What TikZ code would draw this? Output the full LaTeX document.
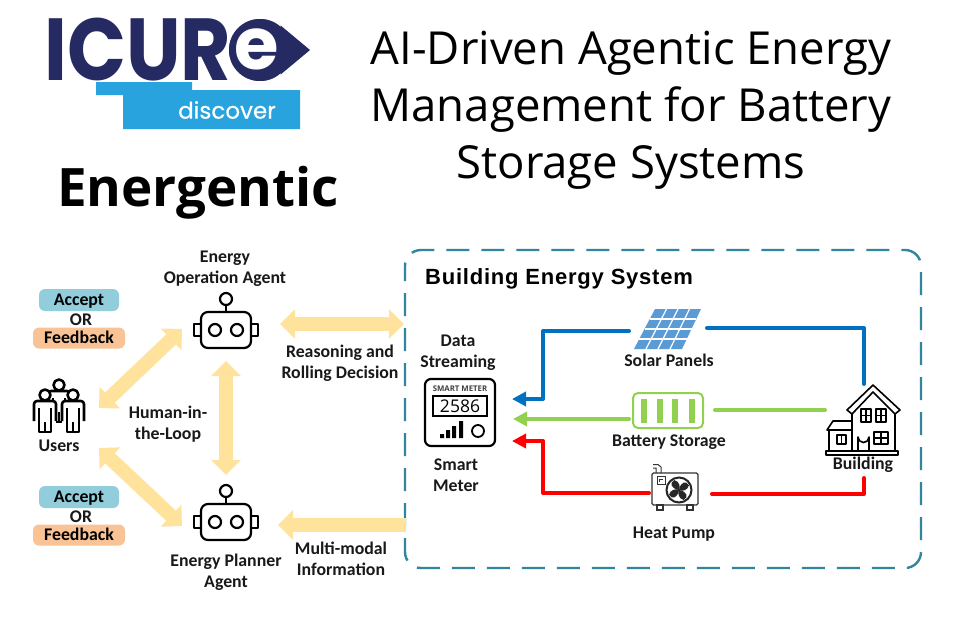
\documentclass[tikz,border=0pt]{standalone}
\usepackage{fontspec}
\setmainfont{Carlito}
\newfontfamily\titlefont{Open Sans}
\newfontfamily\heavyfont{Poppins}
\newfontfamily\logofont[FakeStretch=0.88]{Poppins}
\newfontfamily\discfont[FakeBold=0.4]{Poppins}
\newfontfamily\headfont[LetterSpace=3.5]{Liberation Sans}
\usetikzlibrary{arrows.meta}
\definecolor{navy}{HTML}{262A63}
\definecolor{skyb}{HTML}{29A3DD}
\definecolor{flow}{HTML}{FFE29B}
\definecolor{teal1}{HTML}{31859C}
\definecolor{acc}{HTML}{92CDDC}
\definecolor{fb}{HTML}{F9C396}
\definecolor{solb}{HTML}{0070C0}
\definecolor{batg}{HTML}{92D050}
\definecolor{panel}{HTML}{5B9BD5}
\tikzset{
 x=1pt,y=-1pt,
 lbl/.style={font=\fontsize{17.8}{21}\selectfont\bfseries,align=center,inner sep=0pt,text=black!90},
 title/.style={font=\titlefont\fontsize{45.5}{57}\selectfont,align=center,inner sep=0pt},
 biflow/.style={line width=14pt,flow,{Triangle[length=15pt,width=29pt]}-{Triangle[length=15pt,width=29pt]}},
 uniflow/.style={line width=14pt,flow,{Triangle[length=15pt,width=29pt]}-},
 pill/.style={rounded corners=6pt,inner sep=0pt,minimum height=22pt,text height=12pt,text depth=2pt,font=\fontsize{17.8}{18}\selectfont\bfseries},
 icon/.style={line width=2.2pt,draw=black,line join=round},
 pipe/.style={line width=4pt,line join=round,line cap=round},
 pipearrow/.style={pipe,-{Triangle[length=14pt,width=14pt]}},
}
\newcommand{\robot}[3]{% x, y, name
 \begin{scope}[shift={(#1,#2)}]
 \draw[icon,rounded corners=7pt] (-25,-18) rectangle (25,18);
 \draw[icon] (-25,-6) -- (-32,-6) -- (-32,6) -- (-25,6);
 \draw[icon] (25,-6) -- (32,-6) -- (32,6) -- (25,6);
 \draw[icon] (-11,0) circle (6);
 \draw[icon] (11,0) circle (6);
 \draw[icon] (0,-31) circle (6);
 \draw[icon] (0,-25) -- (0,-18);
 \coordinate (#3) at (0,0);
 \end{scope}}
\newcommand{\person}[2]{% head centre x, y
 \begin{scope}[shift={(#1,#2)},line width=2.6pt,line join=round]
 \fill[white] (-11,6) rectangle (11,38);
 \draw[fill=white] (0,0) circle (5.5);
 \draw[rounded corners=3pt] (-11,26) -- (-11,6) -- (11,6) -- (11,26);
 \draw (-6,13) -- (-6,37) -- (6,37) -- (6,13);
 \draw (0,27) -- (0,37);
 \end{scope}}
\begin{document}
\begin{tikzpicture}
\useasboundingbox (0,0) rectangle (960,625);
\fill[white] (0,0) rectangle (960,625);

% logo
\fill[skyb] (96,82) -- (192,82) -- (192,90) -- (300,90) -- (300,129) -- (123,129) -- (123,95) -- (96,95) -- cycle;
\node[inner sep=0pt,text=navy] (logo) at (138,50) {\logofont\bfseries\fontsize{88}{88}\selectfont ICUR};
\fill[navy,draw=white,line width=1.5pt] (260,50) circle (32);
\fill[navy] (280.5,25.4) -- (310,50) -- (280.5,74.6) -- cycle;
\node[inner sep=0pt,text=white] (loge) at (257,49) {\heavyfont\bfseries\fontsize{72}{72}\selectfont e};
\node[inner sep=0pt,text=white] (disc) at (227,110) {\discfont\fontsize{23}{23}\selectfont discover};

\node[title] (ttl) at (631,110) {AI-Driven Agentic Energy\\Management for Battery\\Storage Systems};
\node[inner sep=0pt,font=\titlefont\bfseries\fontsize{53}{54}\selectfont] (name) at (198,193) {Energentic};

% building box
\draw[teal1,line width=2.4pt,rounded corners=16pt,dash pattern=on 23pt off 12pt,dash phase=8pt] (405,250) rectangle (921,568);
\node[anchor=west,inner sep=0pt,font=\headfont\bfseries\fontsize{22}{22}\selectfont] (bes) at (425,279) {Building Energy System};

% left: pills
\node[pill,fill=acc,minimum width=80pt] (a1) at (79,300) {Accept};
\node[lbl] (o1) at (81,320) {OR};
\node[pill,fill=fb,minimum width=92pt,minimum height=21pt] (f1) at (79,338) {Feedback};
\node[pill,fill=acc,minimum width=80pt] (a2) at (79,497) {Accept};
\node[lbl] (o2) at (81,517) {OR};
\node[pill,fill=fb,minimum width=92pt,minimum height=21pt] (f2) at (79,535) {Feedback};

% labels
\node[lbl] (eoa) at (225,269) {Energy\\Operation Agent};
\node[lbl] (epa) at (226,572) {Energy Planner\\Agent};
\node[lbl] (usr) at (59,446) {Users};
\node[lbl] (hil) at (168,424) {Human-in-\\the-Loop};
\node[lbl] (rrd) at (340,363) {Reasoning and\\Rolling Decision};
\node[lbl] (mmi) at (341,559) {Multi-modal\\Information};
\node[lbl] (ds) at (458,353) {Data\\Streaming};
\node[lbl] (sm) at (456,475) {Smart\\Meter};
\node[lbl] (sp) at (669,360) {Solar Panels};
\node[lbl] (bs) at (669,442) {Battery Storage};
\node[lbl] (hp) at (674,534) {Heat Pump};

% robots
\robot{226}{330}{rob1}
\robot{226}{522}{rob2}

% users icon
\person{59}{385}
\person{45}{395}
\person{73}{395}
\coordinate (usertop) at (99,408);
\coordinate (userbot) at (99,448);
\coordinate (r1sw) at (182,329);
\coordinate (r2nw) at (182,526);
\coordinate (r1s) at (226,361);
\coordinate (r2n) at (226,475);
\coordinate (r1e) at (280,324);
\coordinate (boxw1) at (404,324);
\coordinate (r2e) at (278,525);
\coordinate (boxw2) at (406,525);

% yellow flows
\draw[biflow] (usertop) -- (r1sw);
\draw[biflow] (userbot) -- (r2nw);
\draw[biflow] (r1s) -- (r2n);
\draw[biflow] (r1e) -- (boxw1);
\draw[uniflow] (r2e) -- (boxw2);

% smart meter
\draw[line width=2.2pt,rounded corners=6pt] (425,379) rectangle (495,446);
\node[inner sep=0pt,font=\titlefont\bfseries\fontsize{7.8}{8}\selectfont,text=black!75] (smt) at (460,389) {SMART METER};
\draw[line width=1.8pt] (433,396) rectangle (487,416);
\node[inner sep=0pt,font=\titlefont\fontsize{17.5}{17}\selectfont] (num) at (460,406) {2586};
\fill (440,434) rectangle (444,438) (446,430) rectangle (450,438) (452,426) rectangle (456,438) (459,421) rectangle (463,438);
\draw[line width=1.8pt] (478,431) circle (6);

% solar panel
\fill[panel] (655,309) -- (701,309) -- (682,349) -- (634,349) -- cycle;
\foreach \t in {0.25,0.5,0.75}{
 \draw[white,line width=1.2pt] ({655-21*\t},{309+40*\t}) -- ({701-19*\t},{309+40*\t});
 \draw[white,line width=1.2pt] ({655+46*\t},309) -- ({634+48*\t},349);
}
\coordinate (solL) at (629,331);
\coordinate (solR) at (707,328);

% battery
\draw[batg,line width=2pt,rounded corners=5pt] (633,393) rectangle (703,428);
\foreach \c in {644,660,675,692}{\fill[batg] ({\c-3.3},399) rectangle ({\c+3.3},423);}
\coordinate (batL) at (629,419);
\coordinate (batR) at (715,410);

% heat pump
\draw[line width=1.2pt,black!80,rounded corners=1.5pt,fill=white] (652,473) rectangle (698,505);
\draw[line width=1.2pt,black!80] (657,505) rectangle (663,510) (687,505) rectangle (693,510);
\draw[line width=1pt,black!80] (656,473) -- (656,468) -- (653,468) (661,473) -- (661,467) -- (658,464.5) -- (653,464.5);
\draw[line width=1pt,black!80] (657,476) rectangle (665,484);
\draw[line width=0.8pt,black!80] (659,479) -- (663,479) (659,479) -- (659,482);
\draw[line width=2pt,black!85] (679,490) circle (12.5);
\foreach \a in {20,110,200,290}{\fill[black!85,rotate around={\a:(679,490)}] (679,490) .. controls (683,483) and (689,483) .. (690,489) .. controls (687,493) and (682,493) .. (679,490) -- cycle;}
\coordinate (hpL) at (649,493);
\coordinate (hpR) at (712,494);

% house
\begin{scope}[line width=1.6pt,line join=round]
\draw (873,385) -- (900,410) -- (895,414) -- (873,392) -- (852,414) -- (847,410) -- cycle;
\draw (852,414) -- (852,451) (895,414) -- (895,451);
\draw (861,409) rectangle (871,422) (866,409) -- (866,422) (861,415.5) -- (871,415.5);
\draw (876,409) rectangle (886,422) (881,409) -- (881,422) (876,415.5) -- (886,415.5);
\draw (826,451) rectangle (898,455);
\draw (852,421) -- (833,421) -- (827,430) -- (852,430);
\draw (829,430) -- (829,451);
\draw (837,435) rectangle (846,444) (841.5,435) -- (841.5,444);
\draw (858,451) -- (858,437) arc[start angle=180,end angle=0,radius=5.5] -- (869,451);
\draw (874,432) rectangle (888,444) (881,432) -- (881,444) (874,438) -- (888,438);
\end{scope}
\fill (866,442) circle (0.7);
\node[lbl] (bld) at (863,465) {Building};
\coordinate (hT) at (864,384);
\coordinate (hB) at (864,478);
\coordinate (hE) at (825,410);

% meter ports
\coordinate (m1) at (512,399);
\coordinate (m2) at (513,419);
\coordinate (m3) at (512,441);

% coloured lines
\draw[pipearrow,solb] (solL) -- (543,331) -- (543,399) -- (m1);
\draw[pipe,solb] (solR) -- (864,328) -- (hT);
\draw[pipearrow,batg] (batL) -- (m2);
\draw[pipe,batg] (batR) -- (hE);
\draw[pipearrow,red] (hpL) -- (543,493) -- (543,441) -- (m3);
\draw[pipe,red] (hpR) -- (864,494) -- (hB);
\end{tikzpicture}
\end{document}
